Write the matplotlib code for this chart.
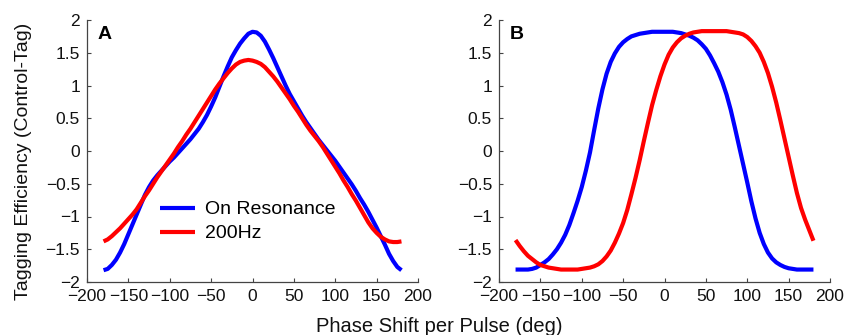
import numpy as np
import matplotlib
matplotlib.use("Agg")
import matplotlib.pyplot as plt

plt.rcParams['font.family'] = ['Liberation Sans', 'DejaVu Sans']

# Phase shift per pulse (deg), every 5 degrees from -180 to 180
phase = list(range(-180, 181, 5))

# Panel A
a_on_resonance = [-1.82, -1.80, -1.74, -1.66, -1.55, -1.42, -1.27, -1.12, -0.97, -0.82,
                  -0.67, -0.55, -0.45, -0.37, -0.30, -0.23, -0.16, -0.10, -0.03, 0.04,
                  0.11, 0.18, 0.26, 0.34, 0.44, 0.55, 0.68, 0.82, 0.98, 1.14,
                  1.29, 1.43, 1.54, 1.64, 1.72, 1.79, 1.82, 1.81, 1.76, 1.67,
                  1.55, 1.42, 1.28, 1.14, 1.00, 0.87, 0.76, 0.65, 0.54, 0.44,
                  0.35, 0.26, 0.17, 0.09, 0.01, -0.07, -0.15, -0.24, -0.33, -0.42,
                  -0.51, -0.61, -0.72, -0.82, -0.93, -1.05, -1.17, -1.30, -1.43, -1.57,
                  -1.68, -1.77, -1.82]
a_200hz = [-1.38, -1.35, -1.30, -1.24, -1.18, -1.11, -1.04, -0.97, -0.89, -0.79,
           -0.69, -0.60, -0.50, -0.40, -0.31, -0.22, -0.13, -0.04, 0.06, 0.15,
           0.25, 0.34, 0.44, 0.54, 0.64, 0.74, 0.84, 0.94, 1.03, 1.11,
           1.19, 1.26, 1.32, 1.36, 1.38, 1.39, 1.38, 1.36, 1.33, 1.28,
           1.21, 1.14, 1.06, 0.97, 0.88, 0.79, 0.69, 0.60, 0.50, 0.40,
           0.31, 0.23, 0.15, 0.06, -0.04, -0.14, -0.24, -0.34, -0.45, -0.55,
           -0.66, -0.76, -0.87, -0.98, -1.09, -1.18, -1.25, -1.31, -1.35, -1.38,
           -1.39, -1.39, -1.38]

# Panel B
b_on_resonance = [-1.81, -1.81, -1.81, -1.81, -1.80, -1.78, -1.74, -1.70, -1.65, -1.58,
                  -1.50, -1.40, -1.28, -1.13, -0.95, -0.76, -0.55, -0.30, -0.02, 0.32,
                  0.65, 0.94, 1.18, 1.36, 1.49, 1.59, 1.66, 1.71, 1.75, 1.77,
                  1.79, 1.80, 1.81, 1.82, 1.82, 1.82, 1.82, 1.82, 1.82, 1.81,
                  1.80, 1.78, 1.76, 1.73, 1.69, 1.63, 1.56, 1.46, 1.34, 1.21,
                  1.05, 0.86, 0.63, 0.36, 0.08, -0.20, -0.48, -0.77, -1.03, -1.25,
                  -1.42, -1.55, -1.64, -1.70, -1.74, -1.77, -1.79, -1.80, -1.81, -1.81,
                  -1.81, -1.81, -1.81]
b_200hz = [-1.36, -1.45, -1.53, -1.60, -1.65, -1.70, -1.74, -1.76, -1.78, -1.79,
           -1.80, -1.81, -1.81, -1.81, -1.81, -1.81, -1.80, -1.79, -1.78, -1.76,
           -1.73, -1.68, -1.61, -1.52, -1.40, -1.26, -1.10, -0.90, -0.66, -0.41,
           -0.14, 0.15, 0.43, 0.70, 0.93, 1.14, 1.32, 1.47, 1.58, 1.66,
           1.72, 1.76, 1.79, 1.81, 1.82, 1.83, 1.83, 1.83, 1.83, 1.83,
           1.83, 1.83, 1.82, 1.81, 1.80, 1.78, 1.74, 1.68, 1.60, 1.50,
           1.36, 1.19, 0.98, 0.74, 0.47, 0.19, -0.09, -0.37, -0.64, -0.87,
           -1.05, -1.21, -1.37]

series_labels = ["On Resonance", "200Hz"]
panel_labels = ["A", "B"]
xticks = [-200, -150, -100, -50, 0, 50, 100, 150, 200]
yticks = [-2, -1.5, -1, -0.5, 0, 0.5, 1, 1.5, 2]
ytick_labels = ["\u22122", "\u22121.5", "\u22121", "\u22120.5", "0", "0.5", "1", "1.5", "2"]
xtick_labels = ["\u2212200", "\u2212150", "\u2212100", "\u221250", "0", "50", "100", "150", "200"]

fig = plt.figure(figsize=(8.52, 3.35), dpi=100)
axA = fig.add_axes([87/852, 1-282/335, 331/852, 262/335])
axB = fig.add_axes([499/852, 1-282/335, 331/852, 262/335])

spine_col = '#444444'
for ax, on, hz, lab in [(axA, a_on_resonance, a_200hz, panel_labels[0]),
                        (axB, b_on_resonance, b_200hz, panel_labels[1])]:
    ax.plot(phase, on, color='#0000ff', lw=3.0, label=series_labels[0],
            solid_capstyle='butt', solid_joinstyle='round')
    ax.plot(phase, hz, color='#ff0000', lw=3.0, label=series_labels[1],
            solid_capstyle='butt', solid_joinstyle='round')
    ax.set_xlim(-200, 200)
    ax.set_ylim(-2, 2)
    ax.set_xticks(xticks)
    ax.set_xticklabels(xtick_labels)
    ax.set_yticks(yticks)
    ax.set_yticklabels(ytick_labels)
    for s in ['top', 'right']:
        ax.spines[s].set_visible(False)
    for s in ['left', 'bottom']:
        ax.spines[s].set_color(spine_col)
        ax.spines[s].set_linewidth(0.9)
    ax.tick_params(direction='in', length=3, width=0.8, color=spine_col,
                   labelsize=12.5, pad=5.0, labelcolor='#111111')
    ax.text(0.033, 0.978, lab, transform=ax.transAxes, fontsize=14,
            fontweight='bold', va='top', ha='left')

leg = axA.legend(loc='upper left', bbox_to_anchor=(0.222, 0.31), frameon=False,
                 fontsize=14, handlelength=1.8, handletextpad=0.5,
                 labelspacing=0.33, borderpad=0, borderaxespad=0)

fig.text(24/852, 1-161/335, "Tagging Efficiency (Control-Tag)", rotation=90,
         ha='center', va='center', fontsize=14, color='#111111')
fig.text(439.5/852, 1-326/335, "Phase Shift per Pulse (deg)",
         ha='center', va='center', fontsize=14.5, color='#111111')

fig.savefig("out.png", dpi=100)
